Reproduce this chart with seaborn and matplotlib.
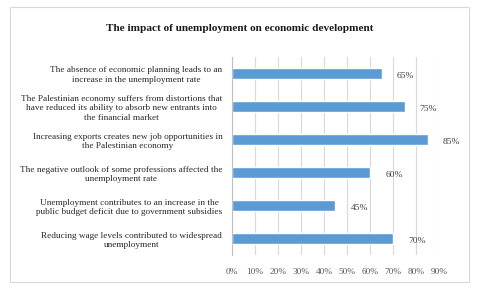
import pandas as pd
import matplotlib.pyplot as plt
import matplotlib.patches as patches
from matplotlib.ticker import PercentFormatter, MultipleLocator
import seaborn as sns

sns.set_theme(style="white")
plt.rcParams['font.family'] = ['Liberation Serif', 'DejaVu Serif']

statements = [
    "The absence of economic planning leads to an\nincrease in the unemployment rate",
    "The Palestinian economy suffers from distortions that\nhave reduced its ability to absorb new entrants into\nthe financial market",
    "Increasing exports creates new job opportunities in\nthe Palestinian economy",
    "The negative outlook of some professions affected the\nunemployment rate",
    "Unemployment contributes to an increase in the\npublic budget deficit due to government subsidies",
    "Reducing wage levels contributed to widespread\nunemployment",
]
shares = [65, 75, 85, 60, 45, 70]

df = pd.DataFrame({"statement": statements, "share": shares})

fig = plt.figure(figsize=(4.8, 2.89), dpi=100)
ax = fig.add_axes([0.4833, 0.1176, 0.4313, 0.6852])

sns.barplot(data=df, x="share", y="statement", orient="h", color="#5B9BD5",
            saturation=1, width=0.35, ax=ax)

ax.set_xlim(0, 90)
ax.xaxis.set_major_locator(MultipleLocator(10))
ax.xaxis.set_major_formatter(PercentFormatter(decimals=0))
ax.grid(axis="x", color="#D9D9D9", linewidth=0.8)
ax.set_axisbelow(True)
ax.set_xlabel("")
ax.set_ylabel("")

for side in ["top", "right", "bottom"]:
    ax.spines[side].set_visible(False)
ax.spines["left"].set_color("#BFBFBF")
ax.spines["left"].set_linewidth(0.8)

ax.tick_params(axis="x", colors="#595959", labelsize=6.7, length=4,
               direction="out", width=0.8, pad=5)
ax.tick_params(axis="x", which="major", color="#D9D9D9")
ax.tick_params(axis="y", length=0, pad=7, labelsize=6.7, labelcolor="#262626")
for lbl in ax.get_yticklabels():
    lbl.set_multialignment("center")
    lbl.set_linespacing(1.25)

for i, v in enumerate(shares):
    ax.annotate(f"{v}%", (v, i), xytext=(11, -1.5), textcoords="offset points",
                va="center", ha="left", fontsize=6.8, color="#404040")

fig.text(0.5, 0.9, "The impact of unemployment on economic development",
         ha="center", va="center", fontsize=8.1, fontweight="bold", color="#1a1a1a")

fig.patches.append(patches.Rectangle((10 / 480, 1 - 282 / 289), 459 / 480, 275 / 289,
                                     transform=fig.transFigure, fill=False,
                                     edgecolor="#D9D9D9", linewidth=0.8))

fig.savefig("out.png", dpi=100)
